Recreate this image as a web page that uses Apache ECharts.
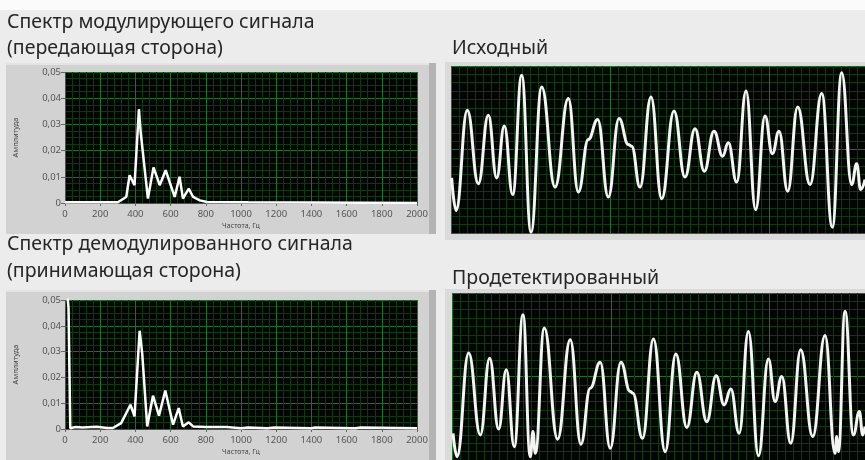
<!DOCTYPE html>
<html>
<head>
<meta charset="utf-8">
<script src="https://cdn.jsdelivr.net/npm/echarts@6/dist/echarts.min.js"></script>
<style>
  html, body { margin: 0; padding: 0; background: #ececec; }
  #chart { width: 865px; height: 460px; }
</style>
</head>
<body>
<div id="chart"></div>
<script>
// Spectrum of the modulating signal (transmitting side)
const txFreq = [0, 300, 348, 367, 395, 420, 430, 471, 503, 538, 572, 623, 651, 670, 703, 728, 766, 807, 1040, 2000];
const txAmp  = [0.0003, 0.0003, 0.0023, 0.0106, 0.0068, 0.0358, 0.027, 0.0017, 0.0136, 0.0068, 0.0125, 0.0023, 0.0100, 0.0017, 0.0055, 0.0023, 0.0010, 0.0004, 0.0003, 0];

// Spectrum of the demodulated signal (receiving side)
const rxFreq = [0, 10, 20, 25, 30, 60, 100, 150, 180, 240, 272, 319, 372, 395, 424, 439, 467, 500, 534, 570, 614, 646, 670, 703, 728, 804, 917, 1000, 1040, 1150, 1190, 1400, 1420, 1650, 1680, 2000];
const rxAmp  = [0.062, 0.062, 0.047, 0.047, 0.0003, 0.0008, 0.0006, 0.0008, 0.0009, 0.0004, 0.0004, 0.0023, 0.0094, 0.0049, 0.0381, 0.029, 0.0010, 0.0129, 0.0052, 0.0149, 0.0017, 0.0081, 0.0010, 0.0026, 0.0010, 0.0008, 0.0008, 0.0003, 0.0006, 0.0003, 0.0006, 0.0003, 0.0006, 0.0003, 0.0006, 0.0003];

// Source waveform: turning points (time, ms / level)
const srcTime = [0.10, 0.79, 2.56, 4.29, 5.86, 7.17, 8.37, 9.68, 11.10, 12.56, 14.24, 16.33, 18.42, 19.99, 21.56, 23.03, 24.70, 26.38, 27.84, 28.37, 29.67, 31.40, 33.08, 35.01, 36.74, 38.31, 39.77, 41.29, 42.65, 43.54, 44.85, 46.32, 47.83, 49.30, 50.45, 51.50, 52.86, 54.43, 56.37, 58.20, 59.87, 61.34, 62.91, 63.69, 64.32, 65.00];
const srcLevel = [-0.34, -0.73, 0.47, -0.41, 0.41, -0.34, 0.28, -0.54, 0.89, -0.99, 0.75, -0.45, 0.61, -0.51, 0.12, 0.36, -0.57, 0.37, 0.06, 0.04, -0.45, 0.63, -0.59, 0.46, -0.33, 0.25, -0.26, 0.22, -0.08, 0.08, -0.39, 0.70, -0.72, 0.40, -0.05, 0.22, -0.50, 0.51, -0.42, 0.67, -0.93, 0.92, -0.42, -0.17, -0.48, -0.36];

// Detected waveform: turning points (time, ms / level)
const detTime = [0.16, 0.79, 2.62, 4.46, 5.92, 7.34, 8.54, 9.80, 11.17, 12.32, 12.74, 13.11, 14.52, 16.62, 18.61, 20.29, 21.75, 23.33, 24.90, 26.58, 28.04, 28.46, 29.98, 31.71, 33.55, 35.23, 36.96, 38.53, 40.10, 41.57, 42.83, 43.88, 45.19, 46.65, 48.23, 49.80, 50.85, 51.90, 53.31, 54.88, 56.77, 58.71, 60.28, 60.55, 60.81, 61.86, 63.17, 64.11, 64.64, 65.00];
const detLevel = [-0.68, -0.96, 0.28, -0.70, 0.22, -0.63, 0.08, -0.84, 0.74, -0.96, -0.66, -0.92, 0.58, -0.75, 0.44, -0.81, -0.14, 0.17, -0.86, 0.17, -0.18, -0.20, -0.74, 0.45, -0.90, 0.27, -0.61, 0.05, -0.54, 0.01, -0.34, -0.15, -0.68, 0.54, -0.95, 0.21, -0.30, 0.00, -0.80, 0.32, -0.72, 0.49, -0.92, -0.72, -0.90, 0.78, -0.70, -0.42, -0.70, -0.60];

const freqTicks = [0, 200, 400, 600, 800, 1000, 1200, 1400, 1600, 1800, 2000];
const ampTicks = [0, 0.01, 0.02, 0.03, 0.04, 0.05];

const pairs = (xs, ys) => xs.map((x, i) => [x, ys[i]]);

const MAJOR = '#1d7029';
const MINOR = '#0d3812';
const PLOT_BG = '#020602';
const LABEL_FONT = 'Noto Sans';

function spectrumAxes(gridIndex) {
  return {
    x: {
      type: 'value', gridIndex, min: freqTicks[0], max: freqTicks[freqTicks.length - 1], interval: 200,
      name: 'Частота, Гц', nameLocation: 'middle', nameGap: 19,
      nameTextStyle: { fontSize: 7, color: '#444', fontFamily: LABEL_FONT },
      axisLine: { show: false },
      axisTick: { show: true, inside: false, length: 3, lineStyle: { color: '#666' } },
      axisLabel: { fontSize: 9.5, color: '#555', margin: 6, fontFamily: LABEL_FONT, formatter: v => String(v) },
      splitLine: { show: true, lineStyle: { color: MAJOR, width: 1 } },
      minorTick: { show: false, splitNumber: 5 },
      minorSplitLine: { show: true, lineStyle: { color: MINOR, width: 1 } }
    },
    y: {
      type: 'value', gridIndex, min: ampTicks[0], max: ampTicks[ampTicks.length - 1], interval: 0.01,
      name: 'Амплитуда', nameLocation: 'middle', nameGap: 45, nameRotate: 90,
      nameTextStyle: { fontSize: 7.5, color: '#444', fontFamily: LABEL_FONT },
      axisLine: { show: false },
      axisTick: { show: true, inside: false, length: 4, lineStyle: { color: '#666' } },
      axisLabel: {
        fontSize: 9.5, color: '#555', margin: 4, fontFamily: LABEL_FONT,
        formatter: v => (v === 0 ? '0' : v.toFixed(2).replace('.', ','))
      },
      splitLine: { show: true, lineStyle: { color: MAJOR, width: 1 } },
      minorTick: { show: false, splitNumber: 4 },
      minorSplitLine: { show: true, lineStyle: { color: MINOR, width: 1 } }
    }
  };
}

function waveAxes(gridIndex) {
  return {
    x: {
      type: 'value', gridIndex, min: 0, max: 65, interval: 25,
      axisLine: { show: false }, axisTick: { show: false }, axisLabel: { show: false },
      splitLine: { show: true, lineStyle: { color: MAJOR, width: 1 } },
      minorTick: { show: false, splitNumber: 20 },
      minorSplitLine: { show: true, lineStyle: { color: MINOR, width: 1 } }
    },
    y: {
      type: 'value', gridIndex, min: -1, max: 1, interval: 1,
      axisLine: { show: false }, axisTick: { show: false }, axisLabel: { show: false },
      splitLine: { show: true, lineStyle: { color: MAJOR, width: 1 } },
      minorTick: { show: false, splitNumber: 10 },
      minorSplitLine: { show: true, lineStyle: { color: MINOR, width: 1 } }
    }
  };
}

const sp1 = spectrumAxes(0), sp2 = spectrumAxes(1), wv1 = waveAxes(2), wv2 = waveAxes(3);

const titleStyle = { fontSize: 19.5, fill: '#262626', fontFamily: 'Noto Sans' };
function caption(text, x, y) {
  return { type: 'text', left: x, top: y, z: 10, style: Object.assign({ text }, titleStyle) };
}
function leftFrame(top) {
  return [
    { type: 'rect', shape: { x: 6, y: top, width: 430, height: 171 }, style: { fill: '#d2d2d2' }, z: -10 },
    { type: 'rect', shape: { x: 6, y: top, width: 430, height: 2 }, style: { fill: '#e4e4e4' }, z: -9 },
    { type: 'rect', shape: { x: 429, y: top, width: 7, height: 171 }, style: { fill: '#b4b4b4' }, z: -9 }
  ];
}
function rightFrame(top) {
  return { type: 'rect', shape: { x: 445, y: top, width: 420, height: 178 }, style: { fill: '#dadada' }, z: -10 };
}

const option = {
  backgroundColor: '#ececec',
  animation: false,
  graphic: [
    { type: 'rect', shape: { x: 0, y: 0, width: 865, height: 10 }, style: { fill: '#fbfbfb' }, z: -11 },
    ...leftFrame(63), ...leftFrame(290),
    rightFrame(62), rightFrame(289),
    caption('Спектр модулирующего сигнала', 7, 12),
    caption('(передающая сторона)', 7, 38),
    caption('Исходный', 452, 38),
    caption('Спектр демодулированного сигнала', 7, 234),
    caption('(принимающая сторона)', 7, 261),
    caption('Продетектированный', 452, 268)
  ],
  grid: [
    { left: 65, top: 72, width: 352, height: 131, show: true, backgroundColor: PLOT_BG, borderWidth: 0 },
    { left: 65, top: 300, width: 352, height: 129, show: true, backgroundColor: PLOT_BG, borderWidth: 0 },
    { left: 451, top: 66, width: 414, height: 167, show: true, backgroundColor: PLOT_BG, borderWidth: 0 },
    { left: 452, top: 293, width: 413, height: 167, show: true, backgroundColor: PLOT_BG, borderWidth: 0 }
  ],
  xAxis: [sp1.x, sp2.x, wv1.x, wv2.x],
  yAxis: [sp1.y, sp2.y, wv1.y, wv2.y],
  series: [
    { type: 'line', xAxisIndex: 0, yAxisIndex: 0, data: pairs(txFreq, txAmp), showSymbol: false, clip: true,
      lineStyle: { color: '#ffffff', width: 2.5 } },
    { type: 'line', xAxisIndex: 1, yAxisIndex: 1, data: pairs(rxFreq, rxAmp), showSymbol: false, clip: true,
      lineStyle: { color: '#ffffff', width: 2.5 } },
    { type: 'line', xAxisIndex: 2, yAxisIndex: 2, data: pairs(srcTime, srcLevel), showSymbol: false, clip: true,
      smooth: 0.45, smoothMonotone: 'x', lineStyle: { color: '#f4f4f4', width: 3 } },
    { type: 'line', xAxisIndex: 3, yAxisIndex: 3, data: pairs(detTime, detLevel), showSymbol: false, clip: true,
      smooth: 0.45, smoothMonotone: 'x', lineStyle: { color: '#f4f4f4', width: 3 } }
  ]
};

const chart = echarts.init(document.getElementById('chart'), null, { renderer: 'canvas' });
chart.setOption(option);
</script>
</body>
</html>
